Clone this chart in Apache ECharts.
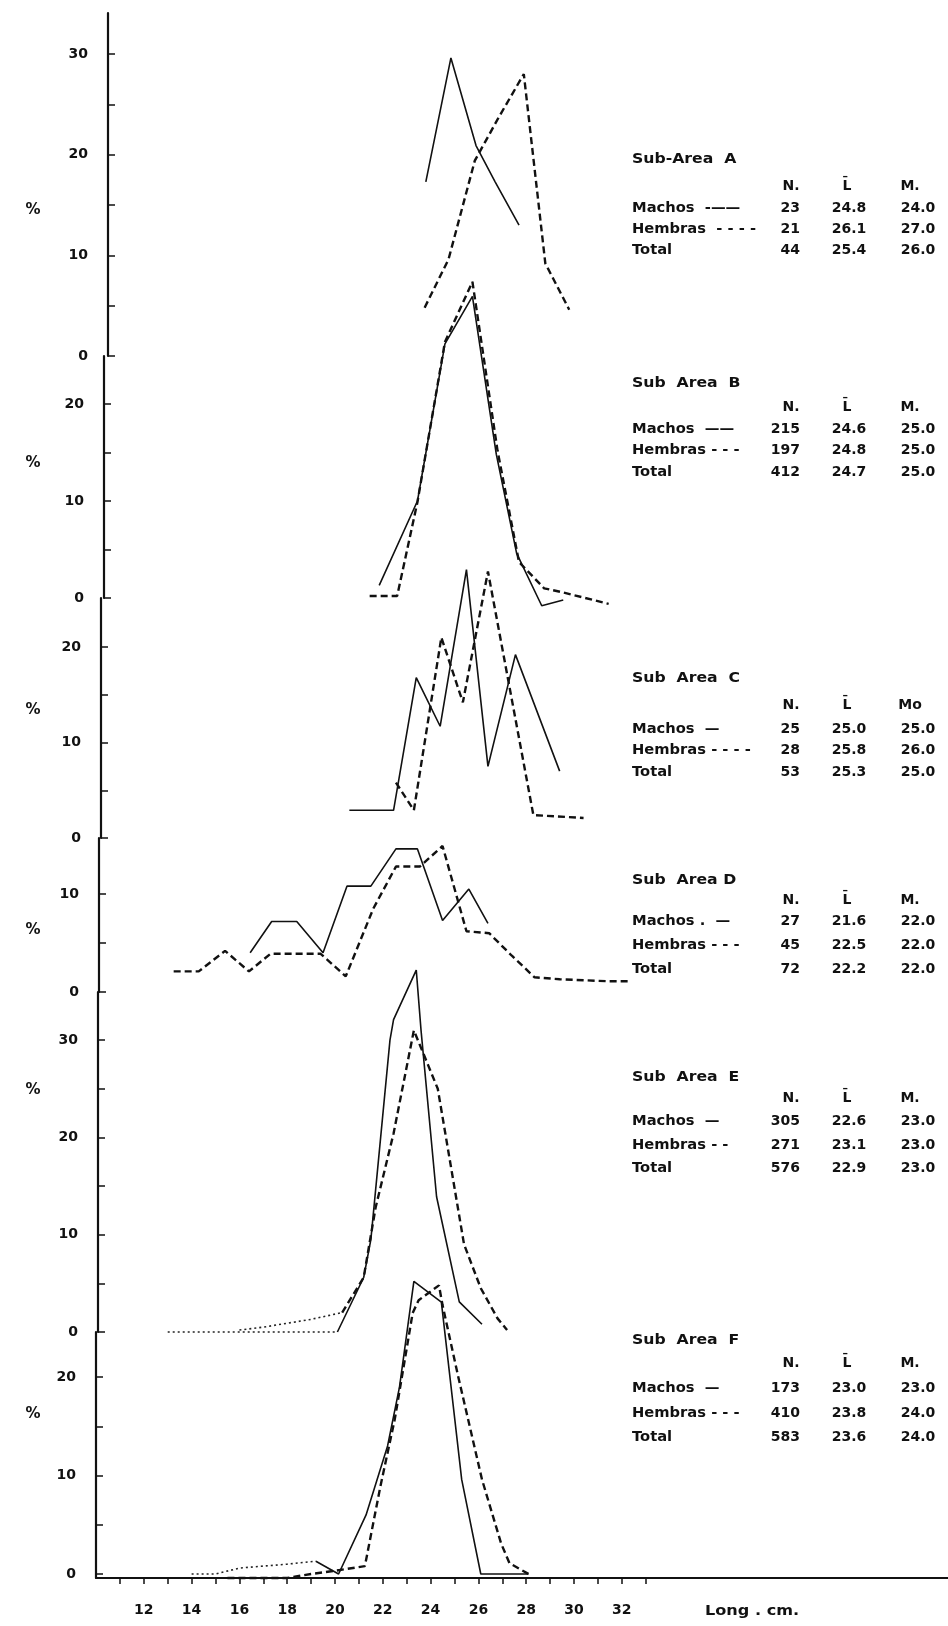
<!DOCTYPE html>
<html><head><meta charset="utf-8">
<script src="https://cdn.jsdelivr.net/npm/echarts@6/dist/echarts.min.js"></script>
<style>html,body{margin:0;padding:0;background:#fff}#c{width:948px;height:1626px}</style>
</head><body><div id="c"></div>
<script>
// ---------- data: [length (cm, as drawn), percent] ----------
const aMachos  = [[23.8,17.3],[24.85,29.6],[25.9,20.9],[26.7,17.3],[27.7,13.0]];
const aHembras = [[23.75,4.8],[24.75,9.6],[25.85,19.4],[26.85,23.7],[27.9,28.0],[28.8,9.2],[29.8,4.6]];
const bMachos  = [[21.85,1.3],[23.45,10.0],[24.6,26.2],[25.75,31.1],[26.75,14.8],[27.6,4.6],[28.65,-0.8],[29.55,-0.2]];
const bHembras = [[21.45,0.2],[22.6,0.2],[23.45,9.9],[24.6,26.4],[25.75,32.6],[26.8,15.2],[27.7,3.7],[28.75,1.0],[29.5,0.6],[31.45,-0.6]];
const cMachos  = [[20.6,2.9],[22.45,2.9],[23.4,16.8],[24.4,11.7],[25.5,28.1],[26.4,7.5],[27.55,19.2],[29.4,7.0]];
const cHembras = [[22.55,5.8],[23.3,2.9],[24.45,21.0],[25.35,14.2],[26.4,27.9],[28.3,2.4],[30.4,2.1]];
const dMachos  = [[16.45,4.0],[17.35,7.2],[18.4,7.2],[19.5,4.0],[20.5,10.8],[21.5,10.8],[22.55,14.6],[23.45,14.6],[24.5,7.3],[25.6,10.5],[26.4,7.0]];
const dHembras = [[13.25,2.1],[14.3,2.1],[15.4,4.2],[16.4,2.1],[17.3,3.9],[18.35,3.9],[19.4,3.9],[20.45,1.6],[21.6,8.5],[22.55,12.8],[23.55,12.8],[24.5,14.9],[25.5,6.2],[26.45,6.0],[27.4,3.7],[28.35,1.5],[29.4,1.3],[30.4,1.2],[31.4,1.1],[32.3,1.1]];
const eMachos  = [[13.0,0],[14,0],[15,0],[16,0],[17,0],[18,0],[19,0],[20.1,0],[21.2,5.6],[21.5,9.5],[22.3,30.0],[22.45,32.1],[23.4,37.2],[23.6,31.0],[24.25,13.9],[25.2,3.1],[26.15,0.8]];
const eHembras = [[16.0,0.2],[17,0.5],[18,0.9],[19,1.3],[20.3,2.0],[21.2,5.6],[21.7,12.8],[22.45,20.4],[23.3,31.0],[23.9,27.4],[24.3,25.0],[25.4,9.0],[26.1,4.5],[26.8,1.4],[27.2,0.2]];
const fMachos  = [[14.0,0],[15.0,0],[16.0,0.6],[17,0.8],[18,1.0],[19.2,1.3],[20.15,0],[21.3,6.0],[22.2,13.0],[22.7,19.0],[23.3,29.7],[24.45,27.6],[25.3,9.6],[26.1,0],[28.1,0]];
const fHembras = [[15.5,-0.4],[16.5,-0.4],[18.0,-0.4],[19.0,0],[20.2,0.4],[21.25,0.8],[21.9,8.9],[22.5,15.7],[23.25,26.5],[23.5,27.8],[24.35,29.3],[24.5,27.3],[25.15,20.1],[26.15,9.6],[26.95,3.1],[27.3,1.1],[28.1,0]];

// tick values / labels
const xTickValues  = [11,12,13,14,15,16,17,18,19,20,21,22,23,24,25,26,27,28,29,30,31,32,33];
const xLabelValues = [12,14,16,18,20,22,24,26,28,30,32];
const yTicks30 = [0,5,10,15,20,25,30];
const yTicks20 = [0,5,10,15,20];
const yTicks10 = [0,5,10];
const yLabels30 = [0,10,20,30];
const yLabels20 = [0,10,20];
const yLabels10 = [0,10];

// summary tables
const tables = [
  {title:'Sub-Area  A', head:['N.','L\u0304','M.'], rows:[['Machos  -\u2014\u2014','23','24.8','24.0'],['Hembras  - - - -','21','26.1','27.0'],['Total','44','25.4','26.0']]},
  {title:'Sub  Area  B', head:['N.','L\u0304','M.'], rows:[['Machos  \u2014\u2014','215','24.6','25.0'],['Hembras - - -','197','24.8','25.0'],['Total','412','24.7','25.0']]},
  {title:'Sub  Area  C', head:['N.','L\u0304','Mo'], rows:[['Machos  \u2014','25','25.0','25.0'],['Hembras - - - -','28','25.8','26.0'],['Total','53','25.3','25.0']]},
  {title:'Sub  Area D', head:['N.','L\u0304','M.'], rows:[['Machos .  \u2014','27','21.6','22.0'],['Hembras - - -','45','22.5','22.0'],['Total','72','22.2','22.0']]},
  {title:'Sub  Area  E', head:['N.','L\u0304','M.'], rows:[['Machos  \u2014','305','22.6','23.0'],['Hembras - -','271','23.1','23.0'],['Total','576','22.9','23.0']]},
  {title:'Sub  Area  F', head:['N.','L\u0304','M.'], rows:[['Machos  \u2014','173','23.0','23.0'],['Hembras - - -','410','23.8','24.0'],['Total','583','23.6','24.0']]}
];

// ---------- layout ----------
const PX_PER_CM = 23.9, X_AT_AXIS = 10, AXIS_X_BOTTOM = 96, RIGHT_EDGE = 948;
// tailM / tailH: number of leading points drawn as a faint dotted tail
const layout = [
  {top:13,   zero:356,  bottom:356,  left:108, ppu:10.07, ticks:yTicks30, labels:yLabels30, m:aMachos, h:aHembras, tailM:0, tailH:0, pct:210,  tY:[159,186,208,229,250]},
  {top:356,  zero:598,  bottom:598,  left:104, ppu:9.7,   ticks:yTicks20, labels:yLabels20, m:bMachos, h:bHembras, tailM:0, tailH:0, pct:463,  tY:[383,407,429,450,472]},
  {top:598,  zero:838,  bottom:838,  left:101, ppu:9.55,  ticks:yTicks20, labels:yLabels20, m:cMachos, h:cHembras, tailM:0, tailH:0, pct:710,  tY:[678,705,729,750,772]},
  {top:838,  zero:992,  bottom:992,  left:99,  ppu:9.8,   ticks:yTicks10, labels:yLabels10, m:dMachos, h:dHembras, tailM:0, tailH:0, pct:930,  tY:[880,900,921,945,969]},
  {top:992,  zero:1332, bottom:1332, left:98,  ppu:9.73,  ticks:yTicks30, labels:yLabels30, m:eMachos, h:eHembras, tailM:7, tailH:4, pct:1090, tY:[1077,1098,1121,1145,1168]},
  {top:1332, zero:1574, bottom:1578, left:96,  ppu:9.85,  ticks:yTicks20, labels:yLabels20, m:fMachos, h:fHembras, tailM:5, tailH:0, pct:1414, tY:[1340,1363,1388,1413,1437]}
];

const FONT = "'DejaVu Sans', sans-serif";
const grid = [], xAxis = [], yAxis = [], series = [], graphic = [];
const xMax = X_AT_AXIS + (RIGHT_EDGE - AXIS_X_BOTTOM) / PX_PER_CM;

function addLine(i, data, tail, mainStyle) {
  if (tail > 0) {
    series.push({type:'line', xAxisIndex:i, yAxisIndex:i, data:data.slice(0, tail + 1), symbol:'none', clip:false, silent:true,
      lineStyle:{color:'#222', width:1.6, type:[2,3]}, z:3});
  }
  series.push({type:'line', xAxisIndex:i, yAxisIndex:i, data:data.slice(tail), symbol:'none', clip:false, silent:true,
    lineStyle:mainStyle, z:3});
}

layout.forEach((p, i) => {
  const last = i === layout.length - 1;
  grid.push({left:p.left, top:p.top, width:RIGHT_EDGE - p.left, height:p.bottom - p.top});
  xAxis.push({
    type:'value', gridIndex:i, min: X_AT_AXIS + (p.left - AXIS_X_BOTTOM) / PX_PER_CM, max:xMax,
    show:last, splitLine:{show:false},
    axisLine:{show:last, onZero:false, lineStyle:{color:'#111', width:2}},
    axisTick:{show:last, inside:false, length:6, customValues:xTickValues, lineStyle:{color:'#111', width:1.5}},
    axisLabel:{show:last, customValues:xLabelValues, margin:25, fontFamily:FONT, fontSize:14, fontWeight:'bold', color:'#111'}
  });
  yAxis.push({
    type:'value', gridIndex:i, min:-(p.bottom - p.zero) / p.ppu, max:(p.zero - p.top) / p.ppu,
    splitLine:{show:false},
    axisLine:{show:true, onZero:false, lineStyle:{color:'#111', width:2.2}},
    axisTick:{show:true, inside:true, length:7, customValues:p.ticks, lineStyle:{color:'#111', width:1.5}},
    axisLabel:{show:true, customValues:p.labels, margin:20, fontFamily:FONT, fontSize:14, fontWeight:'bold', color:'#111'}
  });
  addLine(i, p.m, p.tailM, {color:'#111', width:1.6, type:'solid'});
  addLine(i, p.h, p.tailH, {color:'#111', width:2.4, type:[7,4]});

  // % sign
  graphic.push({type:'text', x:33, y:p.pct, style:{text:'%', font:'bold 15px ' + FONT, fill:'#111', textAlign:'center', textVerticalAlign:'middle'}});

  // summary table
  const t = tables[i];
  const ty = p.tY;
  graphic.push({type:'text', x:632, y:ty[0], scaleX:1.12, style:{text:t.title, font:'bold 14px ' + FONT, fill:'#111', textAlign:'left', textVerticalAlign:'middle'}});
  const hx = [791, 847, 910];
  t.head.forEach((h, k) => graphic.push({type:'text', x:hx[k], y:ty[1], style:{text:h, font:'bold 14px ' + FONT, fill:'#111', textAlign:'center', textVerticalAlign:'middle'}}));
  t.rows.forEach((r, k) => {
    const y = ty[2 + k];
    graphic.push({type:'text', x:632, y:y, scaleX:1.05, style:{text:r[0], font:'bold 14px ' + FONT, fill:'#111', textAlign:'left', textVerticalAlign:'middle'}});
    graphic.push({type:'text', x:800, y:y, style:{text:r[1], font:'bold 14px ' + FONT, fill:'#111', textAlign:'right', textVerticalAlign:'middle'}});
    graphic.push({type:'text', x:849, y:y, style:{text:r[2], font:'bold 14px ' + FONT, fill:'#111', textAlign:'center', textVerticalAlign:'middle'}});
    graphic.push({type:'text', x:918, y:y, style:{text:r[3], font:'bold 14px ' + FONT, fill:'#111', textAlign:'center', textVerticalAlign:'middle'}});
  });
});

graphic.push({type:'text', x:705, y:1611, scaleX:1.15, style:{text:'Long . cm.', font:'bold 14px ' + FONT, fill:'#111', textAlign:'left', textVerticalAlign:'middle'}});

const chart = echarts.init(document.getElementById('c'), null, {renderer:'canvas'});
chart.setOption({
  animation:false, backgroundColor:'#fff',
  grid, xAxis, yAxis, series, graphic
});
</script>
</body></html>
